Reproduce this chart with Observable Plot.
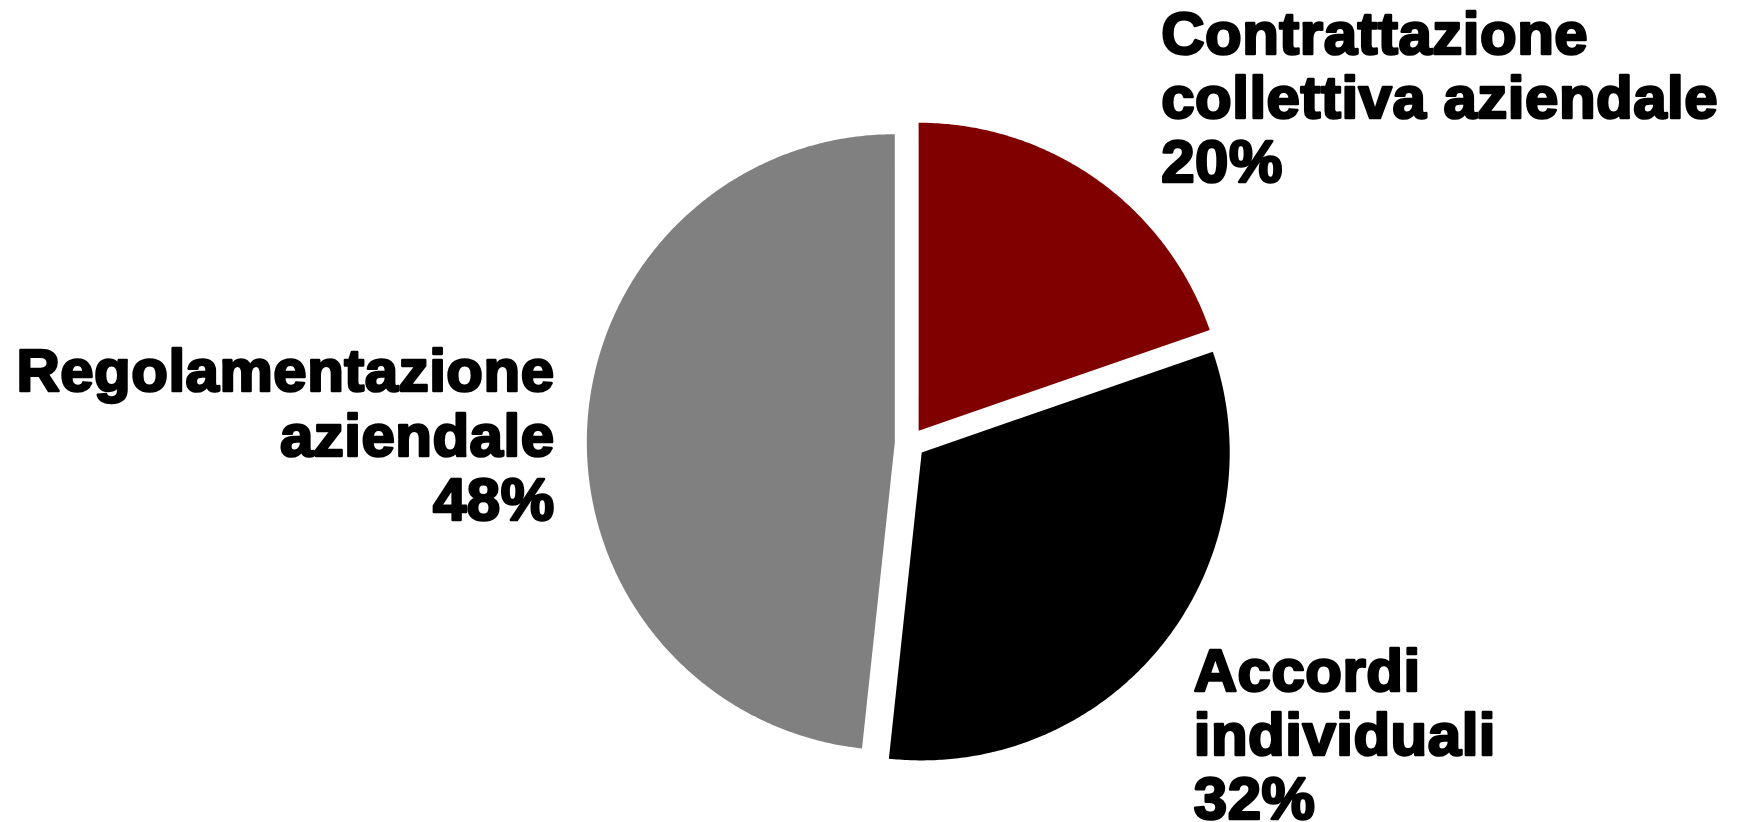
<!DOCTYPE html>
<html>
<head>
<meta charset="utf-8">
<script src="https://cdn.jsdelivr.net/npm/d3@7"></script>
<script src="https://cdn.jsdelivr.net/npm/@observablehq/plot@0.6"></script>
<style>
  html, body { margin: 0; padding: 0; background: #ffffff; }
  #chart svg { display: block; }
  #chart svg text { letter-spacing: 0.5px; }
</style>
</head>
<body>
<div id="chart"></div>
<script>
// ---- Data ----
const categories = ["Contrattazione collettiva aziendale", "Accordi individuali", "Regolamentazione aziendale"];
const labelLines = [["Contrattazione", "collettiva aziendale"], ["Accordi", "individuali"], ["Regolamentazione", "aziendale"]];
const values = [19.7, 32.0, 48.3];
const percentLabels = ["20%", "32%", "48%"];

// ---- Geometry built from the data ----
const W = 1738, H = 822;
const pxPerUnit = 308;          // pie radius in pixels (radius = 1 data unit)
const centerPx = [909.4, 442.5];
const explode = 0.049;          // slice offset, in radius units

const arcs = d3.pie().sort(null).value(d => d)(values);

const slicePoints = [];
arcs.forEach((a, i) => {
  const mid = (a.startAngle + a.endAngle) / 2;
  const ox = explode * Math.sin(mid), oy = explode * Math.cos(mid);
  slicePoints.push({cat: categories[i], x: ox, y: oy});
  const n = Math.max(2, Math.ceil((a.endAngle - a.startAngle) / (Math.PI / 360)));
  for (let k = 0; k <= n; k++) {
    const t = a.startAngle + (a.endAngle - a.startAngle) * k / n;
    slicePoints.push({cat: categories[i], x: ox + Math.sin(t), y: oy + Math.cos(t)});
  }
});

const labelR = 1.1;
const labels = arcs.map((a, i) => {
  const mid = (a.startAngle + a.endAngle) / 2;
  return {
    cat: categories[i],
    text: [...labelLines[i], percentLabels[i]].join("\n"),
    x: (labelR + explode) * Math.sin(mid),
    y: (labelR + explode) * Math.cos(mid)
  };
});

const textStyle = {
  x: "x", y: "y", text: "text",
  fontFamily: "'Liberation Sans', Arial, sans-serif",
  fontWeight: "bold",
  fontSize: 60,
  lineHeight: 1.07,
  lineAnchor: "middle",
  fill: "#000000",
  stroke: "#000000",
  strokeWidth: 2.6
};

const chart = Plot.plot({
  width: W,
  height: H,
  margin: 0,
  style: {background: "#ffffff"},
  x: {domain: [-centerPx[0] / pxPerUnit, (W - centerPx[0]) / pxPerUnit], axis: null},
  y: {domain: [-(H - centerPx[1]) / pxPerUnit, centerPx[1] / pxPerUnit], axis: null},
  color: {domain: categories, range: ["#800000", "#000000", "#808080"]},
  marks: [
    Plot.line(slicePoints, {x: "x", y: "y", z: "cat", fill: "cat", stroke: null, curve: "linear-closed"}),
    Plot.text([labels[0]], {...textStyle, textAnchor: "start", dx: 46, dy: -57}),
    Plot.text([labels[1]], {...textStyle, textAnchor: "start", dx: 7, dy: 71}),
    Plot.text([labels[2]], {...textStyle, textAnchor: "end", dx: -2, dy: 11})
  ]
});

document.getElementById("chart").appendChild(chart);
</script>
</body>
</html>
